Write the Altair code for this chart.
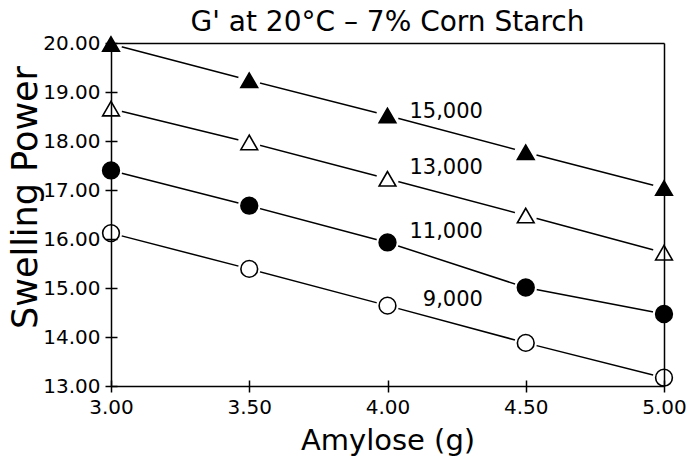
import altair as alt
import pandas as pd

amylose = [3.0, 3.5, 4.0, 4.5, 5.0]
s9000 = [16.12, 15.39, 14.64, 13.88, 13.17]
s11000 = [17.40, 16.68, 15.93, 15.01, 14.47]
s13000 = [18.66, 17.97, 17.23, 16.48, 15.72]
s15000 = [19.98, 19.24, 18.52, 17.77, 17.04]
series_names = ["9,000", "11,000", "13,000", "15,000"]
series_values = [s9000, s11000, s13000, s15000]

label_x = [4.345, 4.345, 4.345, 4.345]
label_y = [14.76, 16.14, 17.45, 18.59]

x_ticks = [3.0, 3.5, 4.0, 4.5, 5.0]
y_ticks = [13, 14, 15, 16, 17, 18, 19, 20]

rows = []
for name, vals in zip(series_names, series_values):
    for xv, yv in zip(amylose, vals):
        rows.append({"series": name, "x": xv, "y": yv})
df = pd.DataFrame(rows)
labels_df = pd.DataFrame({"series": series_names, "x": label_x, "y": label_y})

W, H = 553, 343
FONT = "DejaVu Sans"

xs = alt.Scale(domain=[3, 5], nice=False, zero=False)
ys = alt.Scale(domain=[13, 20], nice=False, zero=False)

shape_scale = alt.Scale(domain=series_names,
                        range=["circle", "circle", "triangle-up", "triangle-up"])
fill_scale = alt.Scale(domain=series_names,
                       range=["white", "black", "white", "black"])

common_axis = dict(zindex=1, tickColor="black", tickWidth=1.5, domain=False,
                   labelFont=FONT, labelColor="black", labelFontSize=20,
                   titleFont=FONT, titleColor="black", titleFontWeight="normal",
                   labelFlush=False, format=".2f", tickSize=12, offset=-6,
                   labelPadding=5, grid=True, gridColor="black", gridWidth=1.5)

# Crossing ticks (tickSize 12 shifted inwards by 6); the frame is drawn by
# grid lines at the two ends of each domain.
x_main = alt.X("x:Q", scale=xs, axis=alt.Axis(
    orient="bottom", values=x_ticks, title="Amylose (g)", titleFontSize=29,
    titleX=W / 2, titleY=60, titleBaseline="middle", titleAlign="center",
    gridOpacity={"condition": {"test": "datum.value == 3 || datum.value == 5",
                               "value": 1}, "value": 0},
    **common_axis))
y_main = alt.Y("y:Q", scale=ys, axis=alt.Axis(
    orient="left", values=y_ticks, title="Swelling Power", titleFontSize=35,
    titleX=-92, titleY=154, titleAngle=-90, titleBaseline="middle",
    titleAlign="center",
    gridOpacity={"condition": {"test": "datum.value == 13 || datum.value == 20",
                               "value": 1}, "value": 0},
    **common_axis))

lines = alt.Chart(df).mark_line(color="black", strokeWidth=1.5).encode(
    x=x_main, y=y_main, detail="series:N")

halo = alt.Chart(df).mark_point(filled=True, color="white", opacity=1, shape="circle",
                                size=500).encode(x="x:Q", y="y:Q")

markers = alt.Chart(df).mark_point(stroke="black", strokeWidth=1.6, opacity=1,
                                   size=280).encode(
    x="x:Q", y="y:Q",
    shape=alt.Shape("series:N", scale=shape_scale, legend=None),
    fill=alt.Fill("series:N", scale=fill_scale, legend=None),
)

texts = alt.Chart(labels_df).mark_text(font=FONT, fontSize=21, align="right",
                                       baseline="middle", color="black").encode(
    x="x:Q", y="y:Q", text="series:N")

chart = alt.layer(lines, halo, markers, texts).properties(
    width=W, height=H,
    title=alt.TitleParams("G' at 20°C – 7% Corn Starch", font=FONT, fontSize=28,
                          fontWeight="normal", color="black", anchor="middle",
                          frame="group", offset=-4),
    autosize=alt.AutoSizeParams(type="none"),
    padding={"left": 111, "top": 43, "right": 24, "bottom": 81},
).configure_view(stroke="transparent").configure(background="white")

chart.save("out.html", embed_options={"renderer": "svg", "actions": False})
